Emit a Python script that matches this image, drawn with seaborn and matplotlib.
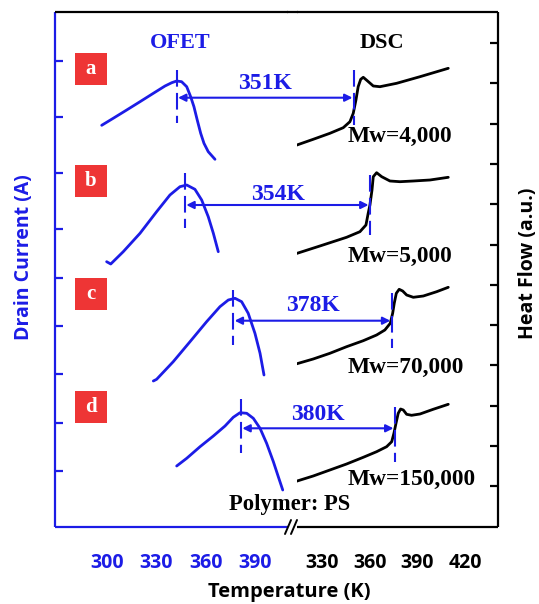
import matplotlib
matplotlib.use("Agg")
import matplotlib.pyplot as plt
import seaborn as sns
from matplotlib.patches import ConnectionPatch, Rectangle
from matplotlib.lines import Line2D

# ---------------- data ----------------
panels = ["a", "b", "c", "d"]
tg_labels = ["351K", "354K", "378K", "380K"]
mw_labels = ["Mw=4,000", "Mw=5,000", "Mw=70,000", "Mw=150,000"]

# OFET drain current curves (temperature K, offset signal a.u.)
ofet_T_a = [296.8, 303.8, 312.0, 320.1, 328.2, 335.3, 339.4, 342.4, 345.4, 348.5, 350.9, 352.9, 354.9, 357.0, 359.0, 361.6, 365.7]
ofet_y_a = [40.17, 40.87, 41.7, 42.53, 43.37, 44.1, 44.43, 44.6, 44.53, 44.03, 43.03, 42.03, 40.7, 39.37, 38.37, 37.53, 36.77]
ofet_T_b = [299.8, 302.3, 309.9, 320.1, 330.2, 338.3, 344.4, 348.5, 353.5, 357.6, 361.6, 364.7, 367.7]
ofet_y_b = [26.53, 26.3, 27.53, 29.37, 31.53, 33.2, 34.03, 34.2, 33.77, 32.7, 31.03, 29.37, 27.53]
ofet_T_c = [328.2, 330.2, 340.3, 350.5, 360.6, 368.7, 373.8, 377.9, 381.9, 385.9, 390.0, 393.1, 395.5]
ofet_y_c = [14.6, 14.77, 16.53, 18.53, 20.53, 22.03, 22.7, 22.87, 22.53, 21.37, 19.37, 17.37, 15.2]
ofet_T_d = [342.4, 348.5, 356.6, 364.7, 371.8, 376.8, 380.9, 385.0, 389.0, 393.1, 397.1, 401.2, 404.2, 406.9]
ofet_y_d = [6.1, 6.87, 8.03, 9.1, 10.1, 10.97, 11.43, 11.37, 10.87, 9.87, 8.37, 6.53, 5.03, 3.7]

# DSC heat flow curves
dsc_T_a = [313.0, 324.5, 335.0, 343.4, 347.6, 349.7, 351.4, 352.8, 354.4, 356.0, 358.5, 362.3, 366.5, 377.0, 391.7, 409.5]
dsc_y_a = [38.13, 38.77, 39.37, 39.93, 40.53, 41.37, 42.7, 44.03, 44.77, 44.97, 44.63, 44.1, 44.03, 44.37, 45.03, 45.87]
dsc_T_b = [313.0, 328.7, 345.5, 353.9, 357.7, 359.1, 360.2, 361.5, 362.3, 364.4, 367.6, 372.8, 379.1, 387.5, 398.0, 409.5]
dsc_y_b = [27.3, 28.1, 28.97, 29.53, 30.2, 31.37, 32.2, 33.7, 35.03, 35.43, 35.03, 34.6, 34.53, 34.6, 34.7, 34.97]
dsc_T_c = [313.0, 324.5, 335.0, 345.5, 356.0, 364.4, 369.6, 373.0, 374.5, 375.5, 376.8, 378.6, 380.8, 383.3, 387.5, 393.8, 402.2, 409.5]
dsc_y_c = [16.27, 16.8, 17.37, 18.03, 18.63, 19.2, 19.7, 20.37, 21.37, 22.37, 23.37, 23.77, 23.6, 23.2, 22.97, 23.1, 23.53, 23.97]
dsc_T_d = [313.0, 324.5, 335.0, 345.5, 356.0, 364.4, 370.7, 373.9, 375.3, 376.6, 378.0, 379.5, 381.2, 383.3, 386.4, 391.7, 400.0, 409.5]
dsc_y_d = [4.53, 5.1, 5.7, 6.3, 6.97, 7.53, 8.03, 8.53, 9.37, 10.37, 11.37, 11.8, 11.7, 11.27, 11.17, 11.3, 11.77, 12.27]

# peak / Tg markers
ofet_peak_T = [342.4, 347.4, 376.8, 381.5]
ofet_mark_top = [45.7, 35.4, 23.7, 12.8]
ofet_mark_bot = [40.4, 29.9, 18.2, 7.4]
dsc_tg_T = [350.1, 360.2, 373.9, 375.9]
dsc_mark_top = [45.7, 35.2, 23.4, 12.0]
dsc_mark_bot = [40.2, 29.2, 17.9, 6.5]
arrow_y = [42.93, 32.2, 20.63, 9.87]

left_xticks = [300, 330, 360, 390]
left_xminor = [315, 345, 375, 405]
right_xticks = [330, 360, 390, 420]
right_xminor = [315, 345, 375, 405]
left_yticks = [46.6, 41.0, 35.4, 29.8, 24.9, 20.1, 15.3, 10.4, 5.6]
right_yticks = [48.4, 44.4, 40.3, 36.3, 32.3, 28.2, 24.2, 20.2, 16.2, 12.1, 8.1, 4.1]

ofet_T = [ofet_T_a, ofet_T_b, ofet_T_c, ofet_T_d]
ofet_y = [ofet_y_a, ofet_y_b, ofet_y_c, ofet_y_d]
dsc_T = [dsc_T_a, dsc_T_b, dsc_T_c, dsc_T_d]
dsc_y = [dsc_y_a, dsc_y_b, dsc_y_c, dsc_y_d]

# ---------------- style ----------------
sns.set_style("white")
plt.rcParams["font.family"] = ["Open Sans", "DejaVu Sans"]
BLUE = "#1c1ce6"
RED = "#ee3535"
SERIF = "Liberation Serif"

W, H = 539, 604
fig = plt.figure(figsize=(W / 100, H / 100), dpi=100)


def rect(x0, x1, y0, y1):
    return [x0 / W, 1 - y1 / H, (x1 - x0) / W, (y1 - y0) / H]


ax1 = fig.add_axes(rect(55, 288, 12, 527))
ax2 = fig.add_axes(rect(297, 498, 12, 527))
for ax in (ax1, ax2):
    ax.set_ylim(0, 51.5)
    ax.set_facecolor("none")
ax1.set_xlim(268.4, 410.1)
ax2.set_xlim(314.3, 440.8)

# spines
for s in ("left", "bottom"):
    ax1.spines[s].set_color(BLUE)
ax1.spines["top"].set_color("black")
ax1.spines["right"].set_visible(False)
ax2.spines["left"].set_visible(False)
for s in ("top", "right", "bottom"):
    ax2.spines[s].set_color("black")
for ax in (ax1, ax2):
    for sp in ax.spines.values():
        sp.set_linewidth(1.6)
        sp.set_capstyle("butt")

# ticks
ax1.set_xticks(left_xticks)
ax1.set_xticks(left_xminor, minor=True)
ax1.set_yticks(left_yticks)
ax1.set_yticklabels([])
ax1.tick_params(axis="x", which="major", direction="out", length=10.5, width=1.6,
                color=BLUE, labelcolor=BLUE, labelsize=14, pad=8)
ax1.tick_params(axis="x", which="minor", direction="out", length=5.5, width=1.6, color=BLUE)
ax1.tick_params(axis="y", which="major", direction="in", length=6, width=1.6, color=BLUE,
                left=True, right=False)
ax2.set_xticks(right_xticks)
ax2.set_xticks(right_xminor, minor=True)
ax2.yaxis.tick_right()
ax2.set_yticks(right_yticks)
ax2.set_yticklabels([])
ax2.tick_params(axis="x", which="major", direction="out", length=10.5, width=1.6,
                color="black", labelcolor="black", labelsize=14, pad=8)
ax2.tick_params(axis="x", which="minor", direction="out", length=5.5, width=1.6, color="black")
ax2.tick_params(axis="y", which="major", direction="in", length=6, width=1.6, color="black",
                left=False, right=True)
for ax in (ax1, ax2):
    for lab in ax.get_xticklabels():
        lab.set_fontweight("bold")

# curves
for i in range(4):
    sns.lineplot(x=ofet_T[i], y=ofet_y[i], ax=ax1, color=BLUE, lw=2.0, sort=False,
                 estimator=None, legend=False)
    sns.lineplot(x=dsc_T[i], y=dsc_y[i], ax=ax2, color="black", lw=2.0, sort=False,
                 estimator=None, legend=False)
    ax1.plot([ofet_peak_T[i]] * 2, [ofet_mark_top[i], ofet_mark_bot[i]], color=BLUE,
             lw=1.5, ls=(0, (8, 3)))
    ax2.plot([dsc_tg_T[i]] * 2, [dsc_mark_top[i], dsc_mark_bot[i]], color=BLUE,
             lw=1.5, ls=(0, (8, 3)))
    con = ConnectionPatch(xyA=(ofet_peak_T[i], arrow_y[i]), coordsA=ax1.transData,
                          xyB=(dsc_tg_T[i], arrow_y[i]), coordsB=ax2.transData,
                          arrowstyle="<|-|>", mutation_scale=11, color=BLUE, lw=1.5,
                          shrinkA=1, shrinkB=1)
    fig.add_artist(con)

ax1.set_xlabel("")
ax1.set_ylabel("")
ax2.set_xlabel("")
ax2.set_ylabel("")

# Tg labels
tg_pos = [(ax1, 396.1, 44.35), (ax1, 404.0, 33.25), (ax2, 324.3, 22.15), (ax2, 327.5, 11.25)]
for (ax, x, y), t in zip(tg_pos, tg_labels):
    ax.text(x, y, t, color=BLUE, fontsize=17, fontweight="bold", family=SERIF,
            ha="center", va="center")

# Mw labels
mw_y = [38.5, 26.5, 15.4, 4.2]
for y, t in zip(mw_y, mw_labels):
    ax2.text(346.4, y, t, color="black", fontsize=16.8, fontweight="bold", family=SERIF,
             ha="left", va="baseline")

ax1.text(374.2, 1.7, "Polymer: PS", color="black", fontsize=16.3, fontweight="bold",
         family=SERIF, ha="left", va="baseline", clip_on=False)
ax1.text(344.4, 47.9, "OFET", color=BLUE, fontsize=16, fontweight="bold", family=SERIF,
         ha="center", va="baseline")
ax2.text(367.8, 47.9, "DSC", color="black", fontsize=16, fontweight="bold", family=SERIF,
         ha="center", va="baseline")

# panel letters in red boxes
box_bottoms = [44.2, 33.0, 21.7, 10.4]
for yb, p in zip(box_bottoms, panels):
    ax1.add_patch(Rectangle((280.5, yb), 19.5, 3.2, color=RED, lw=0))
    ax1.text(290.25, yb + 1.6, p, color="white", fontsize=15, fontweight="bold",
             family=SERIF, ha="center", va="center")

# axis titles
fig.text(24 / W, 1 - 257 / H, "Drain Current (A)", rotation=90, color=BLUE,
         fontsize=14, fontweight="bold", ha="center", va="center")
fig.text(528.5 / W, 1 - 263 / H, "Heat Flow (a.u.)", rotation=90, color="black",
         fontsize=14, fontweight="bold", ha="center", va="center")
fig.text(289 / W, 1 - 592 / H, "Temperature (K)", color="black",
         fontsize=14.5, fontweight="bold", ha="center", va="center")

# top line across gap and break marks
fig.add_artist(Line2D([287 / W, 298 / W], [1 - 12 / H, 1 - 12 / H], color="black",
                      lw=1.6, solid_capstyle="butt"))
for x0 in (285, 291):
    fig.add_artist(Line2D([x0 / W, (x0 + 6) / W], [1 - 534 / H, 1 - 520 / H],
                          color="black", lw=1.4))

fig.savefig("out.png", dpi=100)
